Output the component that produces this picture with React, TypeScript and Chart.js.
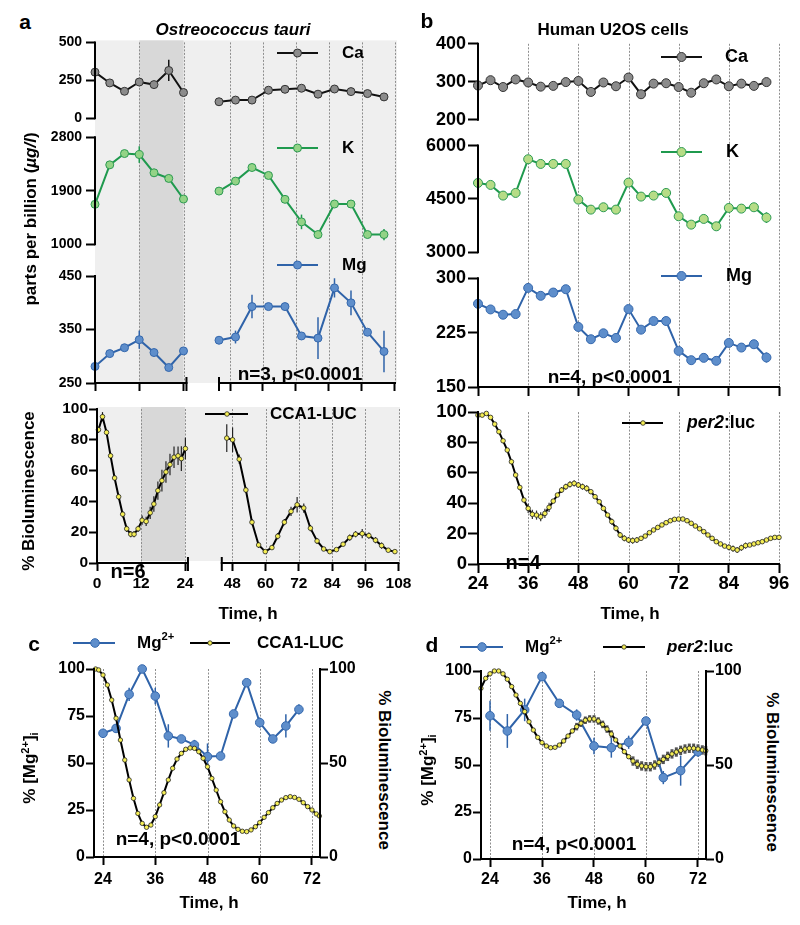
import React, { useEffect, useRef } from 'react';
import { Chart, registerables } from 'chart.js';

Chart.register(...registerables);

const FONT = '"Liberation Sans", Arial, Helvetica, sans-serif';

/* ================= DATA ================= */
// ---- panel a: Ostreococcus tauri, ions (ppb) ----
const aIonTime1 = [0, 4, 8, 12, 16, 20, 24];
const aIonTime2 = [44, 50, 56, 62, 68, 74, 80, 86, 92, 98, 104];
const aCa1 = [304, 233, 178, 239, 222, 315, 170];
const aCaErr1 = [93, 4, 4, 8, 4, 70, 4];
const aCa2 = [109, 120, 120, 185, 191, 198, 159, 193, 176, 163, 141];
const aCaErr2 = [4, 4, 4, 10, 25, 8, 4, 8, 4, 4, 4];
const aK1 = [1671, 2336, 2526, 2509, 2202, 2107, 1760];
const aKErr1 = [112, 30, 30, 140, 30, 40, 30];
const aK2 = [1894, 2062, 2291, 2157, 1755, 1375, 1162, 1676, 1676, 1162, 1162];
const aKErr2 = [30, 30, 30, 30, 30, 123, 30, 30, 30, 30, 95];
const aMg1 = [281, 305, 316, 331, 307, 279, 310];
const aMgErr1 = [11, 3, 3, 17, 3, 3, 3];
const aMg2 = [330, 336, 393, 393, 393, 338, 334, 428, 400, 345, 309];
const aMgErr2 = [3, 12, 22, 3, 3, 3, 39, 18, 23, 4, 39];
const aCaTicks = [0, 250, 500];
const aKTicks = [1000, 1900, 2800];
const aMgTicks = [250, 350, 450];
const aTimeTicks1 = [0, 12, 24];
const aTimeTicks2 = [48, 60, 72, 84, 96, 108];
const aDarkBand = [12, 24];

// ---- panel a: CCA1-LUC bioluminescence ----
const aBioT1 = [0.4, 1.5, 2.6, 3.7, 4.8, 5.9, 7, 8.1, 9.2, 10.1, 11.2, 12.3, 13.4, 14.5, 15.5, 16.6, 17.7, 18.8, 19.9, 21, 22.1, 23, 24.1];
const aBioV1 = [86.5, 95, 84.8, 69.6, 55.2, 43, 31.7, 22.2, 18.7, 18.7, 22.2, 27.8, 27, 32.6, 38.3, 47, 53.5, 59.1, 63.9, 68.7, 69.6, 67.8, 74.3];
const aBioE1 = [2, 3, 2, 2, 2, 2, 2, 2, 2, 2, 2, 3, 3, 4, 5, 6, 7, 7, 7, 7, 6, 8, 7];
const aBioT2 = [46.0, 48.1, 50.5, 52.9, 55.1, 57.5, 59.9, 62.3, 64.4, 66.8, 69.2, 71.4, 73.8, 76.2, 78.6, 81.0, 83.2, 85.6, 88.0, 90.4, 92.5, 94.9, 97.3, 99.7, 101.9, 104.3, 106.7];
const aBioV2 = [81.1, 80, 67.4, 47.4, 26.5, 11.7, 7.4, 10, 17.4, 26.5, 33.5, 37.8, 35.7, 22.6, 14.3, 9.1, 7.4, 8.7, 12.2, 16.5, 18.7, 19.1, 17.8, 14.8, 11.3, 8.3, 7.4];
const aBioE2 = [9, 8, 3, 2, 2, 2, 1, 1, 2, 2, 3, 5, 3, 2, 2, 1, 1, 1, 1, 2, 2, 3, 2, 2, 2, 1, 1];
const bioTicks = [0, 20, 40, 60, 80, 100];

// ---- panel b: Human U2OS cells, ions (ppb) ----
const bT = [24, 27, 30, 33, 36, 39, 42, 45, 48, 51, 54, 57, 60, 63, 66, 69, 72, 75, 78, 81, 84, 87, 90, 93];
const bCa = [290, 304, 286, 306, 298, 287, 289, 299, 302, 273, 298, 288, 311, 267, 295, 296, 286, 271, 296, 306, 288, 295, 289, 299];
const bK = [4950, 4894, 4594, 4669, 5616, 5484, 5484, 5484, 4481, 4200, 4266, 4200, 4959, 4566, 4594, 4669, 4013, 3778, 3938, 3731, 4247, 4228, 4266, 3975];
const bKErr = [40, 40, 40, 40, 40, 40, 40, 40, 40, 40, 40, 40, 40, 40, 40, 40, 40, 40, 40, 40, 40, 40, 40, 150];
const bMg = [264.8, 257, 249.7, 250.6, 286.7, 275.8, 280.3, 284.9, 232.8, 215.9, 224.1, 217.7, 257.5, 229.1, 241, 241, 199.8, 187, 190.2, 186.1, 210.8, 204.4, 209, 190.7];
const bMgErr = [3, 4.6, 2, 2, 2, 2, 2, 2, 2, 2, 2, 2, 2, 2, 2, 2, 2, 2, 4.6, 2, 2, 2, 2, 7];
const bCaTicks = [200, 300, 400];
const bKTicks = [3000, 4500, 6000];
const bMgTicks = [150, 225, 300];
const bTimeTicks = [24, 36, 48, 60, 72, 84, 96];
const bGrid = [36, 48, 60, 72, 84, 96];

// ---- panel b: per2:luc bioluminescence ----
const bBioT = [24, 25, 26, 27, 28, 29, 30, 31, 32, 33, 34, 35, 36, 37, 38, 39, 40, 41, 42, 43, 44, 45, 46, 47, 48, 49, 50, 51, 52, 53, 54, 55, 56, 57, 58, 59, 60, 61, 62, 63, 64, 65, 66, 67, 68, 69, 70, 71, 72, 73, 74, 75, 76, 77, 78, 79, 80, 81, 82, 83, 84, 85, 86, 87, 88, 89, 90, 91, 92, 93, 94, 95, 96];
const bBioV = [98, 98, 99.1, 96.5, 92.1, 87.1, 81.1, 75, 67.3, 58.6, 50.4, 42.1, 36.6, 32.7, 32.2, 31.1, 33.3, 37.3, 41.4, 45.4, 48.7, 50.9, 52.4, 53.1, 52, 50.9, 49.8, 47.6, 44.3, 41, 36.6, 32.2, 27.9, 23.5, 19.1, 16.9, 15.8, 15.4, 15.8, 16.9, 18.4, 20.6, 22.4, 24.1, 25.7, 27.2, 28.5, 29.4, 29.6, 29.6, 28.5, 26.8, 25, 23.2, 21.3, 19.1, 16.9, 14.7, 13.2, 11.8, 11, 10.1, 9.2, 10.7, 12.1, 12.5, 13.2, 14, 14.7, 15.8, 16.9, 17.5, 17.5];
const bBioE = [1, 1, 1, 1, 1, 1, 1, 1, 1, 1, 1, 1, 3, 3, 3, 3, 3, 3, 1, 1, 2, 2, 2, 2, 2, 2, 2, 1, 1, 1, 1, 1, 2, 2, 2, 2, 2, 2, 2, 1, 1, 1, 1, 1, 1, 1, 1, 1, 1, 1, 1, 1, 1, 1, 1, 1, 1, 1, 1, 1, 2, 2, 2, 2, 2, 1, 1, 1, 1, 1, 1, 1, 1];

// ---- panel c: Ostreococcus Mg2+ vs CCA1-LUC ----
const cMgT = [24, 27, 30, 33, 36, 39, 42, 45, 48, 51, 54, 57, 60, 63, 66, 69];
const cMgV = [65.8, 68.4, 86.5, 100, 85.6, 64.4, 62.8, 59.6, 53.4, 53.7, 76.1, 92.7, 71.5, 62.8, 69.7, 78.5];
const cMgErr = [1.5, 1.5, 3.5, 0, 4.4, 6.2, 1.5, 2.7, 7, 0, 1.8, 1.8, 2.7, 1.8, 6.2, 2.7];
const cBioT = [22.3, 23, 24, 25, 26, 27, 28, 29, 30, 31, 32, 33, 34, 35, 36, 37, 38, 39, 40, 41, 42, 43, 44, 45, 46, 47, 48, 49, 50, 51, 52, 53, 54, 55, 56, 57, 58, 59, 60, 61, 62, 63, 64, 65, 66, 67, 68, 69, 70, 71, 72, 73, 73.7];
const cBioV = [100, 99.5, 96.8, 91.5, 83.5, 73.8, 62.2, 51.6, 41, 31.2, 23.2, 17.9, 15.8, 17, 21.5, 27.7, 34.2, 41, 47.2, 52.1, 55.1, 57.3, 58, 57.8, 56, 52.5, 48, 41.8, 35.6, 29.4, 24.1, 19.7, 16.5, 14.7, 13.7, 13.5, 14.4, 16.1, 18.3, 21.1, 23.6, 26.2, 28.5, 30.3, 31.6, 32.1, 31.7, 30.7, 28.9, 26.8, 25, 22.9, 21.8];

// ---- panel d: U2OS Mg2+ vs per2:luc ----
const dMgT = [24, 28, 32, 36, 40, 44, 48, 52, 56, 60, 64, 68, 72];
const dMgV = [76.2, 68.1, 79.3, 97, 82.8, 76.6, 60.1, 59.2, 62.1, 73.4, 43.3, 47, 57.1];
const dMgErr = [8, 9, 6, 2, 2, 3, 4.4, 5.3, 3.5, 1, 3.5, 8, 2.7];
const dBioT = [21.9, 23, 24, 25, 26, 27, 28, 29, 30, 31, 32, 33, 34, 35, 36, 37, 38, 39, 40, 41, 42, 43, 44, 45, 46, 47, 48, 49, 50, 51, 52, 53, 54, 55, 56, 57, 58, 59, 60, 61, 62, 63, 64, 65, 66, 67, 68, 69, 70, 71, 72, 73, 73.8];
const dBioV = [90.8, 96.1, 98.5, 100, 100, 98.5, 95.6, 91.7, 87.2, 82.8, 78.4, 73, 68.6, 64.7, 61.9, 60.1, 59.2, 59.4, 60.6, 62.8, 65.4, 68.1, 70.4, 72.2, 73.8, 74.5, 74.5, 73.4, 71.6, 69.1, 66.5, 63.3, 60.1, 57.1, 54.4, 52.1, 50.4, 49.5, 49.1, 49.1, 50, 51.4, 53, 54.6, 55.9, 56.9, 57.8, 58.5, 58.9, 58.9, 58.5, 58, 57.6];
const dBioE = [0.5, 0.5, 0.5, 0.5, 0.5, 0.5, 0.5, 0.5, 0.5, 0.5, 0.5, 0.5, 0.5, 0.5, 0.5, 0.5, 0.5, 0.5, 0.5, 0.5, 0.5, 0.5, 2, 2, 2, 2, 2, 2, 2, 2, 2, 1, 1, 1, 1, 2.5, 2.5, 2.5, 2.5, 2.5, 2.5, 2.5, 2.5, 2.5, 2.5, 2.5, 2.5, 2.5, 2.5, 2.5, 2.5, 2.5, 2.5];
const cdTimeTicks = [24, 36, 48, 60, 72];
const cdMgTicks = [0, 25, 50, 75, 100];
const cdBioTicks = [0, 50, 100];

/* ================= STYLES ================= */
type Pt = { x: number; y: number };
const zip = (xs: number[], ys: number[]): Pt[] => xs.map((x, i) => ({ x, y: ys[i] }));

type Sty = { line: string; lw: number; r: number; fill: string; stroke: string; sw: number; err?: string; ew?: number };
const YELLOW = '#f5ee55';
const CA_A: Sty = { line: '#111111', lw: 2, r: 4, fill: '#8b8b8b', stroke: '#333333', sw: 1 };
const K_A: Sty = { line: '#1f9a4e', lw: 2, r: 4, fill: '#93d386', stroke: '#2c9a52', sw: 1 };
const MG_A: Sty = { line: '#2f63a9', lw: 2, r: 4, fill: '#5e8ecb', stroke: '#3568ad', sw: 1 };
const CA_B: Sty = { ...CA_A, r: 4.5 };
const K_B: Sty = { ...K_A, r: 4.5, fill: '#b6dc86' };
const MG_B: Sty = { ...MG_A, r: 4.5 };
const MG_C: Sty = { ...MG_A, r: 4.3, lw: 2 };
const BIO_A: Sty = { line: '#000000', lw: 2, r: 2.3, fill: YELLOW, stroke: '#222222', sw: 0.8, err: '#222222', ew: 1.2 };
const BIO_B: Sty = { ...BIO_A, r: 2.3, err: '#333333', ew: 1.2 };
const BIO_C: Sty = { ...BIO_A, r: 2.2 };
const BIO_D: Sty = { ...BIO_A, r: 2.2, err: '#555555', ew: 3 };

function series(data: Pt[], xId: string, yId: string, s: Sty, errors?: number[]) {
  return {
    data, xAxisID: xId, yAxisID: yId,
    borderColor: s.line, borderWidth: s.lw, tension: 0, fill: false, clip: false,
    pointRadius: s.r, pointHoverRadius: s.r, pointBackgroundColor: s.fill,
    pointBorderColor: s.stroke, pointBorderWidth: s.sw,
    errors, errColor: s.err ?? s.line, errWidth: s.ew ?? 1.5,
  };
}

function yAxis(o: any) {
  return {
    type: 'linear', position: o.position ?? 'left', min: o.min, max: o.max,
    ...(o.stack ? { stack: o.stack, stackWeight: o.weight } : {}),
    border: { display: false },
    grid: { drawOnChartArea: false, drawTicks: true, tickLength: o.tickLen ?? 9, tickWidth: 2, tickColor: '#000' },
    ticks: { autoSkip: false, padding: o.pad ?? 3, color: '#000', font: { family: FONT, size: o.size, weight: 'bold' }, callback: (v: any) => String(v) },
    afterBuildTicks: (s: any) => { s.ticks = o.ticks.map((v: number) => ({ value: v })); },
    afterFit: (s: any) => { s.width = o.width; },
  };
}

function xAxis(o: any) {
  return {
    type: 'linear', position: 'bottom', min: o.min, max: o.max,
    ...(o.stack ? { stack: o.stack, stackWeight: o.weight } : {}),
    border: { display: false },
    grid: { drawOnChartArea: false, drawTicks: true, tickLength: o.tickLen ?? 8, tickWidth: 2, tickColor: '#000' },
    ticks: { display: !!o.labels, autoSkip: false, maxRotation: 0, minRotation: 0, padding: o.pad ?? 3, color: '#000', font: { family: FONT, size: o.size ?? 14, weight: 'bold' }, callback: (v: any) => String(v) },
    afterBuildTicks: (s: any) => { s.ticks = o.ticks.map((v: number) => ({ value: v })); },
    afterFit: (s: any) => { s.height = o.height; },
  };
}

type Part = { t: string; italic?: boolean; sup?: boolean };
type Leg = { x0: number; x1: number; y: number; tx: number; parts: Part[]; size: number; s: Sty; mx?: number };
const leg = (x0: number, x1: number, y: number, tx: number, parts: Part[], size: number, s: Sty, mx?: number): Leg => ({ x0, x1, y, tx, parts, size, s, mx });

function drawLegend(ctx: CanvasRenderingContext2D, it: Leg, ox: number, oy: number) {
  const y = it.y - oy;
  ctx.strokeStyle = it.s.line; ctx.lineWidth = it.s.lw;
  ctx.beginPath(); ctx.moveTo(it.x0 - ox, y); ctx.lineTo(it.x1 - ox, y); ctx.stroke();
  const mx = (it.mx ?? (it.x0 + it.x1) / 2) - ox;
  ctx.beginPath(); ctx.arc(mx, y, it.s.r, 0, Math.PI * 2);
  ctx.fillStyle = it.s.fill; ctx.fill();
  ctx.lineWidth = it.s.sw; ctx.strokeStyle = it.s.stroke; ctx.stroke();
  let x = it.tx - ox;
  ctx.fillStyle = '#000'; ctx.textBaseline = 'middle'; ctx.textAlign = 'left';
  for (const p of it.parts) {
    const size = p.sup ? it.size * 0.66 : it.size;
    ctx.font = `${p.italic ? 'italic ' : ''}bold ${size}px ${FONT}`;
    ctx.fillText(p.t, x, p.sup ? y - it.size * 0.38 : y);
    x += ctx.measureText(p.t).width;
  }
}

function makeDecor(cfg: any) {
  return {
    id: 'decor',
    beforeDatasetsDraw(chart: any) {
      const ctx = chart.ctx, ca = chart.chartArea;
      ctx.save();
      for (const b of cfg.bgs || []) {
        const x0 = b.axis ? chart.scales[b.axis].getPixelForValue(b.from) : ca.left;
        const x1 = b.axis ? chart.scales[b.axis].getPixelForValue(b.to) : ca.right;
        const y0 = ca.top + (b.dt || 0), y1 = ca.bottom + (b.db || 0);
        ctx.fillStyle = b.color;
        ctx.fillRect(x0, y0, x1 - x0, y1 - y0);
      }
      ctx.strokeStyle = '#8e8e8e'; ctx.lineWidth = 1; ctx.setLineDash([2, 1.5]);
      for (const g of cfg.grid || []) {
        const s = chart.scales[g.axis];
        for (const v of g.values) {
          const x = Math.round(s.getPixelForValue(v)) + 0.5;
          ctx.beginPath(); ctx.moveTo(x, ca.top + (g.dt || 0)); ctx.lineTo(x, ca.bottom); ctx.stroke();
        }
      }
      ctx.setLineDash([]);
      chart.data.datasets.forEach((ds: any, i: number) => {
        if (!ds.errors) return;
        const meta = chart.getDatasetMeta(i);
        const ys = chart.scales[ds.yAxisID];
        ctx.strokeStyle = ds.errColor; ctx.lineWidth = ds.errWidth;
        meta.data.forEach((el: any, j: number) => {
          const e = ds.errors[j];
          if (!e) return;
          const v = ds.data[j].y;
          ctx.beginPath();
          ctx.moveTo(el.x, ys.getPixelForValue(v + e));
          ctx.lineTo(el.x, ys.getPixelForValue(v - e));
          ctx.stroke();
        });
      });
      ctx.restore();
    },
    afterDatasetsDraw(chart: any) {
      const ctx = chart.ctx, ca = chart.chartArea;
      ctx.save();
      ctx.strokeStyle = '#000'; ctx.lineWidth = 2; ctx.lineCap = 'butt';
      for (const l of cfg.yLines || []) {
        const s = chart.scales[l.axis];
        const x = l.right ? ca.right : ca.left;
        ctx.beginPath(); ctx.moveTo(x, s.getPixelForValue(l.from) + 1); ctx.lineTo(x, s.getPixelForValue(l.to) - 1); ctx.stroke();
      }
      for (const l of cfg.xLines || []) {
        const s = chart.scales[l.axis];
        const xa = s.getPixelForValue(l.from), xb = s.getPixelForValue(l.to);
        const y = ca.bottom;
        ctx.beginPath(); ctx.moveTo(xa - 1, y); ctx.lineTo(xb + 1, y); ctx.stroke();
        if (l.capStart) { ctx.beginPath(); ctx.moveTo(xa, y - 6); ctx.lineTo(xa, y + 8); ctx.stroke(); }
        if (l.capEnd) { ctx.beginPath(); ctx.moveTo(xb, y - 6); ctx.lineTo(xb, y + 8); ctx.stroke(); }
      }
      for (const it of cfg.legends || []) drawLegend(ctx, it, cfg.ox, cfg.oy);
      ctx.restore();
    },
  };
}

function baseOptions(padding: any, scales: any) {
  return {
    responsive: false, maintainAspectRatio: false, animation: false, devicePixelRatio: 1, events: [],
    layout: { padding },
    plugins: { legend: { display: false }, tooltip: { enabled: false } },
    scales,
  };
}

/* ================= LAYOUT ================= */
const G = {
  aIons: { l: 39, t: 30, w: 374, h: 369 },
  aBio: { l: 40, t: 397, w: 376, h: 200 },
  bIons: { l: 416, t: 31, w: 371, h: 372 },
  bBio: { l: 418, t: 400, w: 377, h: 200 },
  c: { l: 44, t: 629, w: 321, h: 266 },
  d: { l: 431, t: 631, w: 320, h: 266 },
};

function cfgAIons() {
  const g = G.aIons;
  return {
    type: 'line',
    data: { datasets: [
      series(zip(aIonTime1, aCa1), 'x1', 'yCa', CA_A, aCaErr1),
      series(zip(aIonTime2, aCa2), 'x2', 'yCa', CA_A, aCaErr2),
      series(zip(aIonTime1, aK1), 'x1', 'yK', K_A, aKErr1),
      series(zip(aIonTime2, aK2), 'x2', 'yK', K_A, aKErr2),
      series(zip(aIonTime1, aMg1), 'x1', 'yMg', MG_A, aMgErr1),
      series(zip(aIonTime2, aMg2), 'x2', 'yMg', MG_A, aMgErr2),
    ] },
    options: baseOptions({ top: 12, right: 16, bottom: 4, left: 0 }, {
      x1: xAxis({ min: 0, max: 28.47, ticks: aTimeTicks1, height: 12, stack: 't', weight: 105 }),
      x2: xAxis({ min: 37.09, max: 108.73, ticks: aTimeTicks2, height: 12, stack: 't', weight: 197 }),
      yMg: yAxis({ min: 250, max: 479.9, ticks: aMgTicks, width: 56, size: 14, stack: 'ions', weight: 123, tickLen: 9, pad: 4 }),
      yK: yAxis({ min: 730.8, max: 2951.4, ticks: aKTicks, width: 56, size: 14, stack: 'ions', weight: 132, tickLen: 9, pad: 4 }),
      yCa: yAxis({ min: -65.8, max: 500, ticks: aCaTicks, width: 56, size: 14, stack: 'ions', weight: 86, tickLen: 9, pad: 4 }),
    }),
    plugins: [makeDecor({
      ox: g.l, oy: g.t,
      bgs: [{ color: '#efefef', dt: -2 }, { axis: 'x1', from: aDarkBand[0], to: aDarkBand[1], color: '#d8d8d8', dt: -2 }],
      grid: [{ axis: 'x1', values: [12, 24] }, { axis: 'x2', values: aTimeTicks2 }],
      yLines: [{ axis: 'yCa', from: 0, to: 500 }, { axis: 'yK', from: 1000, to: 2800 }, { axis: 'yMg', from: 250, to: 450 }],
      xLines: [{ axis: 'x1', from: 0, to: 24.8, capEnd: true }, { axis: 'x2', from: 44, to: 108, capStart: true }],
      legends: [
        leg(277, 318, 53, 342, [{ t: 'Ca' }], 17, CA_A),
        leg(277, 318, 148, 342, [{ t: 'K' }], 17, K_A),
        leg(277, 318, 265, 342, [{ t: 'Mg' }], 17, MG_A),
      ],
    })],
  };
}

function cfgABio() {
  const g = G.aBio;
  return {
    type: 'line',
    data: { datasets: [
      series(zip(aBioT1, aBioV1), 'x1', 'y', BIO_A, aBioE1),
      series(zip(aBioT2, aBioV2), 'x2', 'y', BIO_A, aBioE2),
    ] },
    options: baseOptions({ top: 12, right: 16, bottom: 4, left: 0 }, {
      x1: xAxis({ min: 0, max: 28.9, ticks: aTimeTicks1, height: 30, labels: true, size: 15.5, stack: 't', weight: 106, pad: 3 }),
      x2: xAxis({ min: 37.42, max: 108.54, ticks: aTimeTicks2, height: 30, labels: true, size: 15.5, stack: 't', weight: 197, pad: 3 }),
      y: yAxis({ min: 0, max: 100, ticks: bioTicks, width: 57, size: 15.5, tickLen: 8, pad: 1 }),
    }),
    plugins: [makeDecor({
      ox: g.l, oy: g.t,
      bgs: [{ color: '#efefef', dt: -2, db: -2 }, { axis: 'x1', from: aDarkBand[0], to: aDarkBand[1], color: '#d8d8d8', dt: -2, db: -2 }],
      grid: [{ axis: 'x1', values: [12, 24] }, { axis: 'x2', values: aTimeTicks2 }],
      yLines: [{ axis: 'y', from: 0, to: 100 }],
      xLines: [{ axis: 'x1', from: 0, to: 24.8, capEnd: true }, { axis: 'x2', from: 44.2, to: 108, capStart: true }],
      legends: [leg(205, 248, 414, 270, [{ t: 'CCA1-LUC' }], 17, BIO_A, 227)],
    })],
  };
}

function cfgBIons() {
  const g = G.bIons;
  return {
    type: 'line',
    data: { datasets: [
      series(zip(bT, bCa), 'x', 'yCa', CA_B),
      series(zip(bT, bK), 'x', 'yK', K_B, bKErr),
      series(zip(bT, bMg), 'x', 'yMg', MG_B, bMgErr),
    ] },
    options: baseOptions({ top: 12, right: 8, bottom: 4, left: 0 }, {
      x: xAxis({ min: 24, max: 96, ticks: bTimeTicks, height: 12, tickLen: 9 }),
      yMg: yAxis({ min: 150, max: 317.9, ticks: bMgTicks, width: 62, size: 18, stack: 'ions', weight: 122, tickLen: 10, pad: 2 }),
      yK: yAxis({ min: 2635.5, max: 6364.5, ticks: bKTicks, width: 62, size: 18, stack: 'ions', weight: 133, tickLen: 10, pad: 2 }),
      yCa: yAxis({ min: 165.8, max: 400, ticks: bCaTicks, width: 62, size: 18, stack: 'ions', weight: 89, tickLen: 10, pad: 2 }),
    }),
    plugins: [makeDecor({
      ox: g.l, oy: g.t,
      grid: [{ axis: 'x', values: bGrid }],
      yLines: [{ axis: 'yCa', from: 200, to: 400 }, { axis: 'yK', from: 3000, to: 6000 }, { axis: 'yMg', from: 150, to: 300 }],
      xLines: [{ axis: 'x', from: 24, to: 96 }],
      legends: [
        leg(661, 702, 57, 725, [{ t: 'Ca' }], 18, CA_B),
        leg(661, 702, 152, 726, [{ t: 'K' }], 18, K_B),
        leg(661, 702, 276, 726, [{ t: 'Mg' }], 18, MG_B),
      ],
    })],
  };
}

function cfgBBio() {
  const g = G.bBio;
  return {
    type: 'line',
    data: { datasets: [series(zip(bBioT, bBioV), 'x', 'y', BIO_B, bBioE)] },
    options: baseOptions({ top: 12, right: 16, bottom: 4, left: 0 }, {
      x: xAxis({ min: 24, max: 96, ticks: bTimeTicks, height: 32, labels: true, size: 18.5, tickLen: 9, pad: 0 }),
      y: yAxis({ min: 0, max: 100, ticks: bioTicks, width: 60, size: 18.5, tickLen: 10, pad: 1 }),
    }),
    plugins: [makeDecor({
      ox: g.l, oy: g.t,
      grid: [{ axis: 'x', values: bGrid }],
      yLines: [{ axis: 'y', from: 0, to: 100 }],
      xLines: [{ axis: 'x', from: 24, to: 96 }],
      legends: [leg(622, 663, 423, 687, [{ t: 'per2', italic: true }, { t: ':luc' }], 17.5, BIO_B, 643)],
    })],
  };
}

function cfgDual(g: any, bioT: number[], bioV: number[], bioS: Sty, bioE: number[] | undefined, mgT: number[], mgV: number[], mgE: number[], xmin: number, xmax: number, xpad: number, legends: Leg[]) {
  return {
    type: 'line',
    data: { datasets: [
      series(zip(bioT, bioV), 'x', 'yR', bioS, bioE),
      series(zip(mgT, mgV), 'x', 'yL', MG_C, mgE),
    ] },
    options: baseOptions({ top: 40, right: 0, bottom: 4, left: 0 }, {
      x: xAxis({ min: xmin, max: xmax, ticks: cdTimeTicks, height: 34, labels: true, size: 16, tickLen: 8, pad: xpad }),
      yL: yAxis({ min: 0, max: 100, ticks: cdMgTicks, width: 50, size: 16, tickLen: 8, pad: 1 }),
      yR: yAxis({ position: 'right', min: 0, max: 100, ticks: cdBioTicks, width: 45, size: 16, tickLen: 8, pad: 1 }),
    }),
    plugins: [makeDecor({
      ox: g.l, oy: g.t,
      grid: [{ axis: 'x', values: cdTimeTicks }],
      yLines: [{ axis: 'yL', from: 0, to: 100 }, { axis: 'yR', from: 0, to: 100, right: true }],
      xLines: [{ axis: 'x', from: xmin, to: xmax }],
      legends,
    })],
  };
}

const cfgC = () => cfgDual(G.c, cBioT, cBioV, BIO_C, undefined, cMgT, cMgV, cMgErr, 21.93, 73.84, 5, [
  leg(73, 115, 643, 137, [{ t: 'Mg' }, { t: '2+', sup: true }], 17, MG_C, 95),
  leg(190, 230, 643, 257, [{ t: 'CCA1-LUC' }], 17, BIO_C, 210),
]);
const cfgD = () => cfgDual(G.d, dBioT, dBioV, BIO_D, dBioE, dMgT, dMgV, dMgErr, 21.92, 73.85, 3, [
  leg(460, 503, 647, 525, [{ t: 'Mg' }, { t: '2+', sup: true }], 17, MG_C, 482),
  leg(603, 645, 647, 667, [{ t: 'per2', italic: true }, { t: ':luc' }], 17, BIO_D, 624),
]);

/* ================= COMPONENTS ================= */
function ChartCanvas({ geo, make }: { geo: { l: number; t: number; w: number; h: number }; make: () => any }) {
  const ref = useRef<HTMLCanvasElement>(null);
  useEffect(() => {
    const chart = new Chart(ref.current as HTMLCanvasElement, make());
    return () => chart.destroy();
  }, []);
  return (
    <canvas ref={ref} width={geo.w} height={geo.h}
      style={{ position: 'absolute', left: geo.l, top: geo.t, width: geo.w, height: geo.h }} />
  );
}

function Txt({ x, y, size, rot = 0, italic = false, children }: any) {
  return (
    <div style={{
      position: 'absolute', left: x, top: y, transform: `translate(-50%, -50%) rotate(${rot}deg)`,
      fontSize: size, fontWeight: 700, fontStyle: italic ? 'italic' : 'normal', whiteSpace: 'nowrap',
      lineHeight: 1, color: '#000', fontFamily: FONT,
    }}>{children}</div>
  );
}

const MgI = () => (
  <span>% [Mg<span style={{ fontSize: '0.65em', verticalAlign: '0.55em' }}>2+</span>]<span style={{ fontSize: '0.65em', verticalAlign: '-0.25em' }}>i</span></span>
);

export default function App() {
  return (
    <div style={{ position: 'absolute', left: 0, top: 0, width: 800, height: 925, background: '#fff', overflow: 'hidden', fontFamily: FONT }}>
      <ChartCanvas geo={G.aIons} make={cfgAIons} />
      <ChartCanvas geo={G.aBio} make={cfgABio} />
      <ChartCanvas geo={G.bIons} make={cfgBIons} />
      <ChartCanvas geo={G.bBio} make={cfgBBio} />
      <ChartCanvas geo={G.c} make={cfgC} />
      <ChartCanvas geo={G.d} make={cfgD} />

      <Txt x={25} y={21} size={21}>a</Txt>
      <Txt x={233} y={29} size={17} italic>Ostreococcus tauri</Txt>
      <Txt x={427} y={20} size={21}>b</Txt>
      <Txt x={613} y={29} size={17}>Human U2OS cells</Txt>
      <Txt x={30} y={219} size={17} rot={-90}>parts per billion (<i>µg/l</i>)</Txt>
      <Txt x={300} y={373} size={19}>n=3, p&lt;0.0001</Txt>
      <Txt x={610} y={376} size={19}>n=4, p&lt;0.0001</Txt>
      <Txt x={28} y={491} size={17} rot={-90}>% Bioluminescence</Txt>
      <Txt x={128} y={571} size={20}>n=6</Txt>
      <Txt x={523} y={562} size={20}>n=4</Txt>
      <Txt x={248} y={613} size={17}>Time, h</Txt>
      <Txt x={630} y={613} size={17}>Time, h</Txt>

      <Txt x={34} y={643} size={21}>c</Txt>
      <Txt x={30} y={768} size={17} rot={-90}><MgI /></Txt>
      <Txt x={384} y={770} size={17} rot={90}>% Bioluminescence</Txt>
      <Txt x={178} y={838} size={19}>n=4, p&lt;0.0001</Txt>
      <Txt x={209} y={902} size={17}>Time, h</Txt>

      <Txt x={432} y={644} size={21}>d</Txt>
      <Txt x={428} y={770} size={17} rot={-90}><MgI /></Txt>
      <Txt x={772} y={772} size={17} rot={90}>% Bioluminescence</Txt>
      <Txt x={574} y={843} size={19}>n=4, p&lt;0.0001</Txt>
      <Txt x={597} y={902} size={17}>Time, h</Txt>
    </div>
  );
}
